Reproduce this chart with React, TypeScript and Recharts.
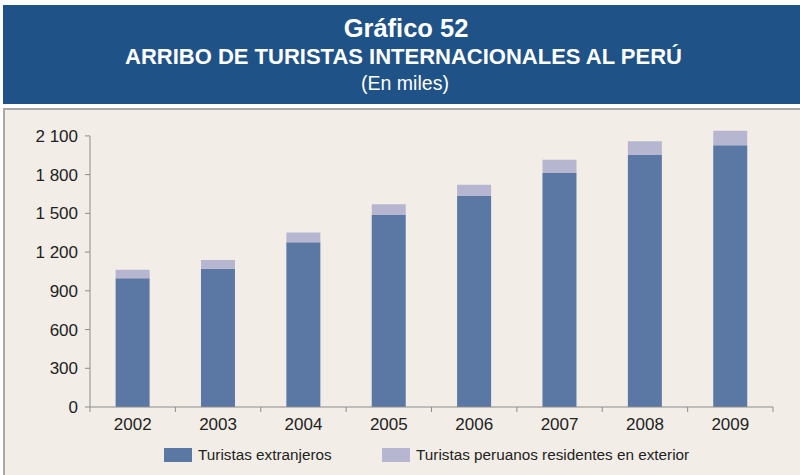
import { BarChart, Bar, XAxis, YAxis, ReferenceLine } from 'recharts';

// Arribo de turistas internacionales al Perú, en miles
const YEARS = ['2002', '2003', '2004', '2005', '2006', '2007', '2008', '2009'];
const EXTRANJEROS = [998, 1070, 1277, 1487, 1635, 1812, 1953, 2028];
const PERUANOS_EXT = [66, 69, 75, 84, 86, 104, 105, 112];
const Y_TICKS = [0, 300, 600, 900, 1200, 1500, 1800, 2100];

const SERIES = [
  { key: 'ext', name: 'Turistas extranjeros', color: '#5B77A4' },
  { key: 'per', name: 'Turistas peruanos residentes en exterior', color: '#B6B6D1' },
];

const COLORS = {
  header: '#1F5286',
  panel: '#F2EEE7',
  border: '#A8A8A8',
  axis: '#8C8C8C',
  text: '#222222',
};

const FONT = '"Liberation Sans", Arial, sans-serif';

const W = 800;
const H = 475;
const PLOT_LEFT = 90;
const PLOT_RIGHT = 773;
const HALF_BAND = (PLOT_RIGHT - PLOT_LEFT) / YEARS.length / 2;

const data = YEARS.map((year, i) => ({
  year,
  ext: EXTRANJEROS[i],
  per: PERUANOS_EXT[i],
}));

const fmt = (v: number) => String(v).replace(/\B(?=(\d{3})+(?!\d))/g, ' ');

// year label centred on the band, tick marks on the band edges
const XTick = (props: any) => {
  const { x, y, payload, index } = props;
  return (
    <g>
      <line x1={x + HALF_BAND} x2={x + HALF_BAND} y1={y} y2={y + 5} stroke={COLORS.axis} />
      {index === 0 && (
        <line x1={x - HALF_BAND} x2={x - HALF_BAND} y1={y} y2={y + 5} stroke={COLORS.axis} />
      )}
      <text x={x} y={y + 22.5} textAnchor="middle" fontSize={17} fill={COLORS.text} fontFamily={FONT}>
        {payload.value}
      </text>
    </g>
  );
};

export default function App() {
  return (
    <div
      style={{
        position: 'absolute',
        left: 0,
        top: 0,
        width: W,
        height: H,
        background: '#fff',
        overflow: 'hidden',
        fontFamily: FONT,
      }}
    >
      {/* header band */}
      <svg
        width={797}
        height={99}
        style={{ position: 'absolute', left: 3, top: 5, background: COLORS.header }}
      >
        <text x={403} y={32} textAnchor="middle" fill="#fff" fontSize={25.5} fontWeight={700} fontFamily={FONT}>
          Gráfico 52
        </text>
        <text x={400.5} y={59} textAnchor="middle" fill="#fff" fontSize={22} fontWeight={700} fontFamily={FONT}>
          ARRIBO DE TURISTAS INTERNACIONALES AL PERÚ
        </text>
        <text x={402} y={84.5} textAnchor="middle" fill="#fff" fontSize={19.5} fontFamily={FONT}>
          (En miles)
        </text>
      </svg>

      {/* chart panel */}
      <div
        style={{
          position: 'absolute',
          left: 3,
          top: 108,
          width: 800,
          height: 380,
          background: COLORS.panel,
          borderTop: `2px solid ${COLORS.border}`,
          borderLeft: `2px solid ${COLORS.border}`,
        }}
      />

      <div style={{ position: 'absolute', left: 0, top: 0 }}>
        <BarChart
          width={W}
          height={H}
          data={data}
          margin={{ top: 123, right: W - PLOT_RIGHT, bottom: 38, left: 10 }}
          barCategoryGap="30%"
        >
          <XAxis
            dataKey="year"
            height={30}
            tickLine={false}
            tickSize={0}
            tickMargin={0}
            axisLine={{ stroke: COLORS.axis }}
            tick={<XTick />}
            interval={0}
          />
          <YAxis
            width={80}
            domain={[0, 2200]}
            ticks={Y_TICKS}
            interval={0}
            tickFormatter={fmt}
            axisLine={false}
            tickLine={{ stroke: COLORS.axis }}
            tickSize={5}
            tickMargin={7}
            tick={{ fontSize: 17, fill: COLORS.text, fontFamily: FONT }}
          />
          <ReferenceLine
            segment={[
              { x: YEARS[0], y: 0 },
              { x: YEARS[0], y: 2100 },
            ]}
            position="start"
            stroke={COLORS.axis}
          />
          {SERIES.map((s) => (
            <Bar key={s.key} dataKey={s.key} name={s.name} stackId="a" fill={s.color} isAnimationActive={false} />
          ))}
        </BarChart>
      </div>

      {/* legend */}
      {SERIES.map((s, i) => (
        <div
          key={s.key}
          style={{
            position: 'absolute',
            left: i === 0 ? 164 : 382,
            top: 446,
            display: 'flex',
            alignItems: 'center',
            fontSize: 15.3,
            color: COLORS.text,
            whiteSpace: 'nowrap',
          }}
        >
          <span style={{ display: 'inline-block', width: 28, height: 14, background: s.color, marginRight: 6 }} />
          {s.name}
        </div>
      ))}
    </div>
  );
}
